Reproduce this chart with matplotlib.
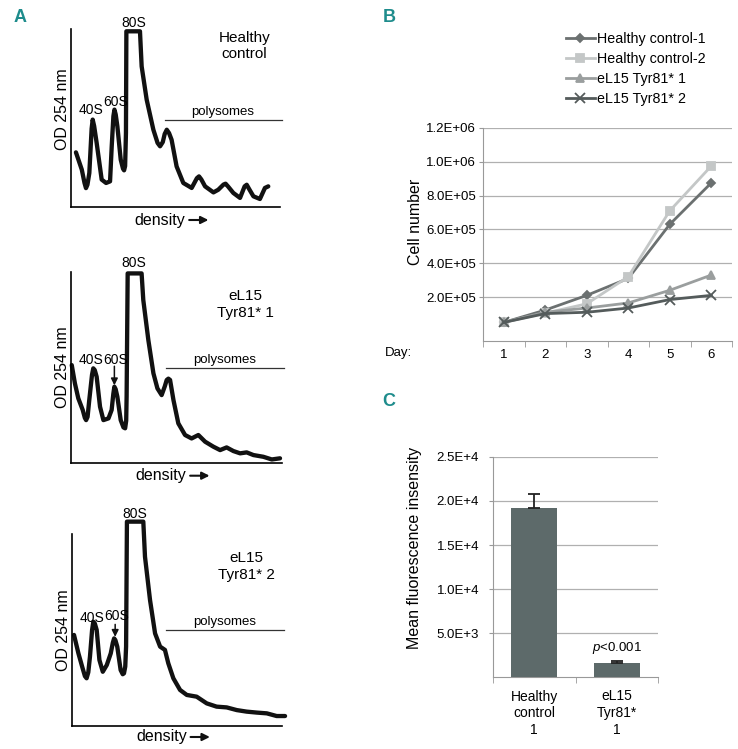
import numpy as np
import matplotlib
matplotlib.use('Agg')
import matplotlib.pyplot as plt
from matplotlib import transforms

plt.rcParams['font.family'] = ['Liberation Sans', 'DejaVu Sans']
plt.rcParams['mathtext.fontset'] = 'custom'
plt.rcParams['mathtext.it'] = 'Liberation Sans:italic'
plt.rcParams['mathtext.rm'] = 'Liberation Sans'

# ---- panel A: polysome profiles (density 0-100, OD 0-100) ----
a1_x = [2.5, 5.3, 6.6, 7.3, 8.0, 8.9, 10.0, 10.5, 11.2, 12.4, 14.8, 16.9, 18.8, 19.6, 20.4, 20.9, 21.5, 22.3, 23.9,
        25.0, 25.5, 26.0, 26.4, 26.6, 33.1, 33.9, 36.3, 39.5, 41.5, 42.7, 44.0, 44.9, 45.9, 47.0, 48.2, 50.6, 53.8,
        57.8, 60.3, 61.3, 62.4, 64.2, 68.2, 70.5, 73.0, 74.0, 75.2, 77.7, 80.9, 83.1, 84.1, 85.3, 87.3, 90.4, 92.8,
        94.4]
a1_y = [30.7, 21.0, 13.5, 10.6, 12.5, 19.1, 44.0, 49.1, 45.5, 36.0, 15.4, 13.5, 14.4, 34.1, 51.0, 54.7, 52.0, 45.3,
        26.6, 21.5, 20.6, 23.0, 41.6, 98.7, 98.7, 79.0, 60.3, 43.4, 36.0, 34.1, 36.5, 41.0, 43.4, 41.5, 37.8, 22.8,
        13.5, 10.7, 16.2, 17.2, 15.5, 11.6, 8.2, 9.7, 12.6, 13.1, 11.5, 7.9, 5.1, 11.6, 12.5, 10.0, 6.0, 4.5, 10.7,
        11.6]

a2_x = [0.5, 2.0, 3.6, 5.7, 6.7, 7.3, 8.0, 8.8, 10.1, 10.7, 11.4, 12.3, 13.9, 15.5, 17.9, 19.4, 20.2, 20.7, 21.3,
        22.1, 23.7, 25.0, 25.8, 26.3, 26.5, 27.0, 33.6, 34.4, 36.8, 39.2, 41.1, 43.1, 44.6, 45.5, 46.3, 47.1, 48.7,
        51.0, 54.2, 57.3, 60.5, 63.7, 67.6, 70.8, 73.9, 77.1, 80.3, 83.4, 86.6, 91.3, 95.3, 99.2]
a2_y = [51.1, 41.5, 33.7, 27.6, 23.5, 22.3, 24.0, 32.8, 46.0, 49.4, 48.5, 45.0, 29.3, 22.3, 23.2, 27.6, 36.0, 39.8,
        38.5, 34.6, 22.3, 18.5, 18.0, 22.0, 34.6, 99.1, 99.1, 85.2, 64.2, 46.8, 38.9, 35.4, 40.0, 43.3, 44.0, 43.3,
        32.8, 20.6, 14.5, 12.7, 14.5, 11.0, 8.4, 6.6, 8.0, 6.1, 4.9, 5.4, 4.0, 3.1, 1.7, 2.3]

a3_x = [1.1, 3.2, 5.2, 6.3, 7.1, 7.9, 8.7, 9.7, 10.3, 11.0, 11.9, 13.2, 14.8, 16.7, 18.6, 19.6, 20.2, 20.8, 21.7,
        23.3, 24.3, 24.9, 25.5, 25.9, 26.3, 34.1, 34.9, 37.3, 39.7, 42.1, 44.4, 46.0, 48.4, 51.6, 54.8, 59.5, 64.3,
        69.0, 73.8, 78.6, 83.3, 88.1, 92.9, 97.6, 101.6]
a3_y = [47.5, 37.9, 30.1, 26.0, 24.9, 28.0, 36.2, 50.0, 54.4, 53.5, 50.1, 34.4, 28.3, 31.8, 37.9, 43.5, 45.7, 44.8,
        41.4, 29.2, 27.0, 27.5, 31.0, 41.4, 106.6, 106.6, 88.3, 65.7, 48.3, 41.4, 39.7, 32.7, 24.9, 18.8, 16.2, 15.3,
        11.8, 10.1, 9.7, 8.3, 7.5, 7.0, 6.6, 5.2, 5.2]

# ---- panel B: growth curves ----
days = [1, 2, 3, 4, 5, 6]
hc1 = [5.0e4, 1.23e5, 2.1e5, 3.1e5, 6.3e5, 8.75e5]
hc2 = [5.0e4, 1.05e5, 1.6e5, 3.2e5, 7.1e5, 9.75e5]
el1 = [5.0e4, 1.1e5, 1.35e5, 1.65e5, 2.4e5, 3.3e5]
el2 = [5.0e4, 1.02e5, 1.1e5, 1.35e5, 1.85e5, 2.1e5]
b_ticks = [2e5, 4e5, 6e5, 8e5, 1e6, 1.2e6]
b_ticklabels = ['2.0E+05', '4.0E+05', '6.0E+05', '8.0E+05', '1.0E+06', '1.2E+06']

# ---- panel C: mean fluorescence intensity ----
c_labels = ['Healthy\ncontrol\n1', 'eL15\nTyr81*\n1']
c_values = [1.92e4, 1.6e3]
c_err = [1.6e3, 2.0e2]
c_ticks = [5e3, 1e4, 1.5e4, 2e4, 2.5e4]
c_ticklabels = ['5.0E+3', '1.0E+4', '1.5E+4', '2.0E+4', '2.5E+4']

W, H = 738, 749
fig = plt.figure(figsize=(W / 100, H / 100), dpi=100)


def fbox(l, t, r, b):
    return [l / W, 1 - b / H, (r - l) / W, (b - t) / H]


teal = '#1e8c8c'


def profile(ax, x, y, label, sub80, lbl40, lbl60, arrow, poly_y, name_y, ylab_y=0.5, dens_off=13):
    ax.plot(x, y, color='#111111', lw=3.1, solid_joinstyle='round', solid_capstyle='round', clip_on=False)
    ax.set_xlim(0, 100)
    ax.set_ylim(0, 100)
    for s in ['top', 'right']:
        ax.spines[s].set_visible(False)
    for s in ['left', 'bottom']:
        ax.spines[s].set_linewidth(1.2)
    ax.set_xticks([])
    ax.set_yticks([])
    ax.set_ylabel('OD 254 nm', fontsize=11.5)
    ax.yaxis.set_label_coords(-0.005, ylab_y)
    ax.text(30, sub80, '80S', ha='center', va='center', fontsize=10)
    ax.text(9.6, lbl40, '40S', ha='center', va='center', fontsize=10)
    ax.text(21.4, lbl60, '60S', ha='center', va='center', fontsize=10)
    if arrow is not None:
        ax.annotate('', xy=(20.7, arrow[1]), xytext=(20.7, arrow[0]),
                    arrowprops=dict(arrowstyle='-|>', color='#111111', lw=1.1, mutation_scale=10,
                                    shrinkA=0, shrinkB=0))
    ax.plot([45, 101], [poly_y, poly_y], color='#333333', lw=0.9, clip_on=False)
    ax.text(72.8, poly_y + 4.3, 'polysomes', ha='center', va='center', fontsize=9.5)
    ax.text(83, name_y, label, ha='center', va='center', fontsize=11, linespacing=1.25)
    tr = transforms.offset_copy(ax.transAxes, fig=fig, y=-dens_off, units='dots')
    ax.text(0.427, 0, 'density', ha='center', va='center', fontsize=11.5, transform=tr)
    ax.annotate('', xy=(0.658, 0), xytext=(0.566, 0), xycoords=tr, textcoords=tr,
                arrowprops=dict(arrowstyle='-|>', color='#111111', lw=1.5, mutation_scale=11,
                                shrinkA=0, shrinkB=0))


ax1 = fig.add_axes(fbox(70.7, 29, 280, 207))
profile(ax1, a1_x, a1_y, 'Healthy\ncontrol', 103.5, 54.5, 59.0, None, 49.1, 90.5, ylab_y=0.55)
ax2 = fig.add_axes(fbox(70.7, 271.7, 281.7, 462.7))
profile(ax2, a2_x, a2_y, 'eL15\nTyr81* 1', 104.5, 53.8, 53.8, (50.5, 40.5), 49.6, 82.8)
ax3 = fig.add_axes(fbox(71.7, 534.3, 281.7, 726))
profile(ax3, a3_x, a3_y, 'eL15\nTyr81* 2', 110.6, 56.5, 57.5, (53.0, 46.5), 49.9, 83.2, dens_off=11)

fig.text(14 / W, 1 - 18 / H, 'A', color=teal, fontsize=13, fontweight='bold', va='center')
fig.text(383 / W, 1 - 18 / H, 'B', color=teal, fontsize=13, fontweight='bold', va='center')
fig.text(382 / W, 1 - 401 / H, 'C', color=teal, fontsize=13, fontweight='bold', va='center')

# ---- B ----
axb = fig.add_axes(fbox(483, 128, 732, 341))
series = [(hc1, 'Healthy control-1', '#6b7070', 'D', 4.5),
          (hc2, 'Healthy control-2', '#c4c7c7', 's', 6),
          (el1, 'eL15 Tyr81* 1', '#9a9e9e', '^', 6),
          (el2, 'eL15 Tyr81* 2', '#545b5b', 'x', 6.5)]
for vals, lab, col, mk, ms in series:
    axb.plot(days, vals, color=col, lw=2.0, marker=mk, ms=ms, mew=1.3, label=lab)
axb.set_xlim(0.5, 6.5)
axb.set_ylim(-6e4, 1.2e6)
axb.set_yticks(b_ticks)
axb.set_yticklabels(b_ticklabels, fontsize=9.5)
axb.set_xticks(days)
axb.set_xticklabels([str(d) for d in days], fontsize=9.5)
axb.set_xticks(np.arange(0.5, 7, 1), minor=True)
axb.tick_params(axis='x', which='major', length=0, pad=6)
axb.tick_params(axis='x', which='minor', length=4, color='#999999')
axb.tick_params(axis='y', length=3, color='#999999', pad=2)
axb.grid(axis='y', color='#b0b0b0', lw=0.9)
axb.set_axisbelow(True)
for s in ['top', 'right']:
    axb.spines[s].set_visible(False)
for s in ['left', 'bottom']:
    axb.spines[s].set_color('#999999')
axb.set_ylabel('Cell number', fontsize=11.5)
axb.yaxis.set_label_coords(-0.24, 0.56)
fig.text(398 / W, 1 - 353 / H, 'Day:', ha='center', va='center', fontsize=9.5)
axb.legend(loc='upper left', bbox_to_anchor=(566 / W, 1 - 32 / H), bbox_transform=fig.transFigure,
           frameon=False, fontsize=10.3, handlelength=2.0, handletextpad=0.2, labelspacing=0.42,
           borderpad=0, borderaxespad=0)

# ---- C ----
axc = fig.add_axes(fbox(493, 457, 658, 677))
xc = np.arange(len(c_values))
axc.bar(xc, c_values, width=0.56, color='#5d6a6a', zorder=3,
        yerr=[[0, 0], c_err], capsize=4.5, error_kw=dict(ecolor='#222222', elinewidth=1.3, capthick=1.3))
axc.set_xlim(-0.5, 1.5)
axc.set_ylim(0, 2.5e4)
axc.set_yticks(c_ticks)
axc.set_yticklabels(c_ticklabels, fontsize=9.5)
axc.set_xticks(xc)
axc.set_xticklabels(c_labels, fontsize=10, linespacing=1.25)
axc.set_xticks([-0.5, 0.5, 1.5], minor=True)
axc.tick_params(axis='x', which='major', length=0, pad=9)
axc.tick_params(axis='x', which='minor', length=4, color='#999999')
axc.tick_params(axis='y', length=3, color='#999999', pad=7)
axc.grid(axis='y', color='#b0b0b0', lw=0.9)
axc.set_axisbelow(True)
for s in ['top', 'right']:
    axc.spines[s].set_visible(False)
for s in ['left', 'bottom']:
    axc.spines[s].set_color('#999999')
axc.set_ylabel('Mean fluorescence insensity', fontsize=11.5)
axc.yaxis.set_label_coords(-0.43, 0.586)
axc.text(1, 3.3e3, '$p$<0.001', ha='center', va='center', fontsize=9.5)

fig.savefig('out.png', dpi=100)
